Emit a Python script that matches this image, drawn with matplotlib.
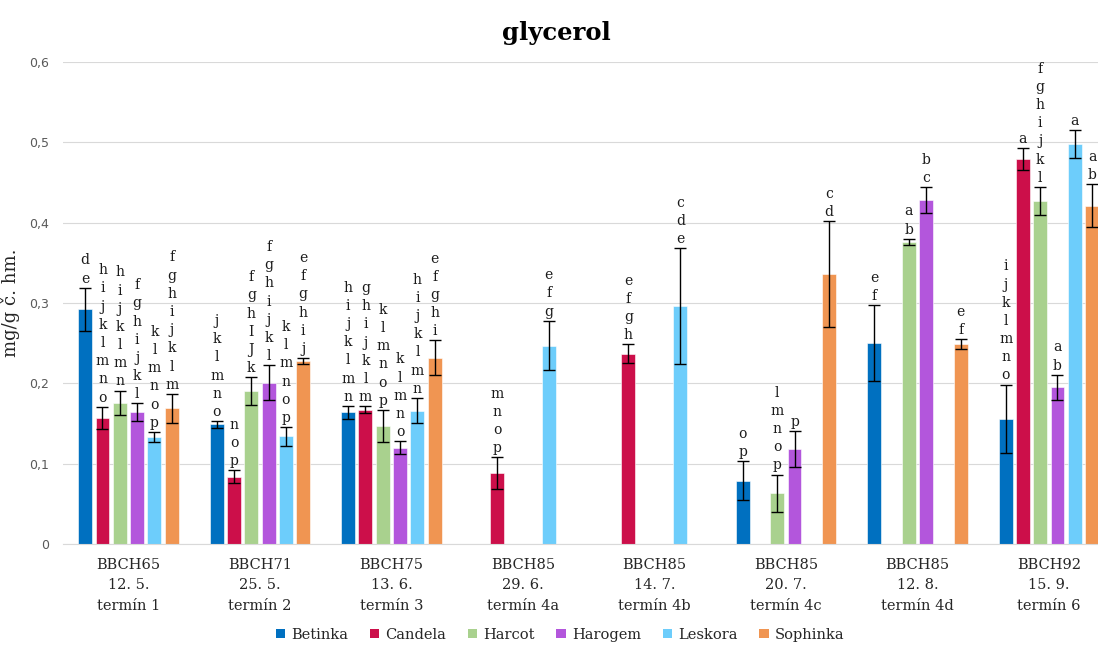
import numpy as np
import matplotlib
matplotlib.use("Agg")
import matplotlib.pyplot as plt
from matplotlib.patches import Patch

nan = np.nan

categories = ["BBCH65\n12. 5.\ntermín 1", "BBCH71\n25. 5.\ntermín 2",
              "BBCH75\n13. 6.\ntermín 3", "BBCH85\n29. 6.\ntermín 4a",
              "BBCH85\n14. 7.\ntermín 4b", "BBCH85\n20. 7.\ntermín 4c",
              "BBCH85\n12. 8.\ntermín 4d", "BBCH92\n15. 9.\ntermín 6"]

cultivars = ["Betinka", "Candela", "Harcot", "Harogem", "Leskora", "Sophinka"]

betinka = [0.292, 0.149, 0.164, nan, nan, 0.079, 0.250, 0.156]
candela = [0.157, 0.084, 0.167, 0.088, 0.237, nan, nan, 0.479]
harcot = [0.176, 0.190, 0.147, nan, nan, 0.063, 0.376, 0.427]
harogem = [0.164, 0.201, 0.120, nan, nan, 0.118, 0.428, 0.195]
leskora = [0.133, 0.134, 0.166, 0.247, 0.296, nan, nan, 0.498]
sophinka = [0.169, 0.228, 0.232, nan, nan, 0.336, 0.249, 0.421]

betinka_err = [0.027, 0.004, 0.008, nan, nan, 0.0245, 0.047, 0.0425]
candela_err = [0.014, 0.0075, 0.0045, 0.020, 0.0117, nan, nan, 0.014]
harcot_err = [0.015, 0.0175, 0.020, nan, nan, 0.0235, 0.004, 0.0176]
harogem_err = [0.011, 0.0215, 0.008, nan, nan, 0.0224, 0.016, 0.0157]
leskora_err = [0.0065, 0.0115, 0.016, 0.031, 0.072, nan, nan, 0.017]
sophinka_err = [0.018, 0.0035, 0.0215, nan, nan, 0.066, 0.006, 0.027]

betinka_let = ["de", "jklmno", "hijklmn", "", "", "op", "ef", "ijklmno"]
candela_let = ["hijklmno", "nop", "ghijklm", "mnop", "efgh", "", "", "a"]
harcot_let = ["hijklmn", "fghIJk", "klmnop", "", "", "lmnop", "ab", "fghijkl"]
harogem_let = ["fghijkl", "fghijkl", "klmno", "", "", "p", "bc", "ab"]
leskora_let = ["klmnop", "klmnop", "hijklmn", "efg", "cde", "", "", "a"]
sophinka_let = ["fghijklm", "efghij", "efghi", "", "", "cd", "ef", "ab"]

values = [betinka, candela, harcot, harogem, leskora, sophinka]
errors = [betinka_err, candela_err, harcot_err, harogem_err, leskora_err, sophinka_err]
letters = [betinka_let, candela_let, harcot_let, harogem_let, leskora_let, sophinka_let]
colors = ["#0070C0", "#CC0F4A", "#A9D18E", "#B356DC", "#6DCDFB", "#F09552"]

serif = ["DejaVu Serif"]

fig = plt.figure(figsize=(10.98, 6.47), dpi=100)
ax = fig.add_axes([0.0571, 0.1592, 0.958, 0.745])

x = np.arange(len(categories))
pitch = 0.1316
width = 0.106

for i, name in enumerate(cultivars):
    xs = x + (i - 2.5) * pitch
    vals = np.array(values[i], dtype=float)
    errs = np.array(errors[i], dtype=float)
    ax.bar(xs, vals, width=width, color=colors[i], edgecolor="white",
           linewidth=0.4, zorder=2, label=name)
    ax.errorbar(xs, vals, yerr=errs, fmt="none", ecolor="black",
                elinewidth=1.0, capsize=4, capthick=1.0, zorder=3)
    for xi, v, e, lab in zip(xs, vals, errs, letters[i]):
        if np.isnan(v) or not lab:
            continue
        ax.annotate("\n".join(lab), (xi, v + e), xytext=(0, 1.5),
                    textcoords="offset points", ha="center", va="bottom",
                    fontsize=10, family=serif, color="#1a1a1a",
                    linespacing=1.38, zorder=4)

ax.set_xlim(-0.5, len(categories) - 0.5)
ax.set_ylim(0, 0.6)
ax.set_yticks(np.arange(0, 0.61, 0.1))
ax.set_yticklabels(["0" if t == 0 else f"{t:.1f}".replace(".", ",")
                    for t in np.arange(0, 0.61, 0.1)],
                   fontsize=9, color="#595959", family="DejaVu Sans")
ax.set_xticks(x)
ax.set_xticklabels(categories, fontsize=10.5, family=serif, color="#262626",
                   linespacing=1.6)
ax.tick_params(axis="both", length=0)
ax.tick_params(axis="x", pad=10)
ax.tick_params(axis="y", pad=10)

ax.grid(axis="y", color="#d9d9d9", linewidth=0.8, zorder=0)
ax.set_axisbelow(True)
for side in ["top", "right", "left"]:
    ax.spines[side].set_visible(False)
ax.spines["bottom"].set_color("#d9d9d9")

ax.set_ylabel("mg/g č. hm.", fontsize=13, family=serif, color="#262626")
ax.yaxis.set_label_coords(-0.0406, 0.5)

fig.text(0.507, 0.949, "glycerol", ha="center", va="center",
         fontsize=17.5, fontweight="bold", family=serif)

handles = [Patch(facecolor=c, edgecolor="none") for c in colors]
fig.legend(handles, cultivars, loc="center", bbox_to_anchor=(0.51, 0.019),
           ncol=6, frameon=False, prop={"family": serif, "size": 10.5},
           handlelength=0.65, handleheight=0.65, handletextpad=0.4,
           columnspacing=1.5, labelcolor="#262626")

fig.savefig("out.png", dpi=100)
